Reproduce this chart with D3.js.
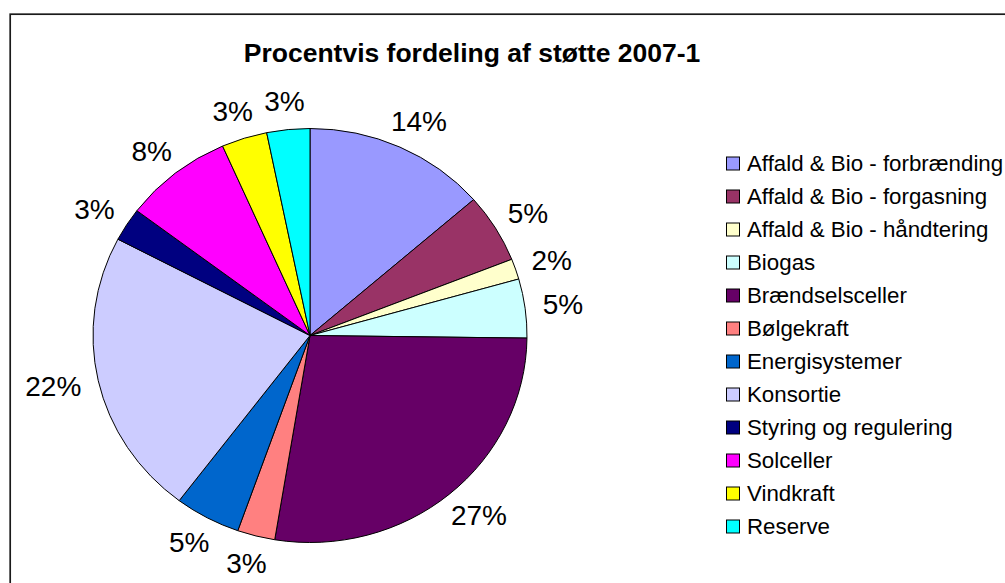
<!DOCTYPE html>
<html>
<head>
<meta charset="utf-8">
<script src="https://cdn.jsdelivr.net/npm/d3@7"></script>
<style>
    body { margin: 0; background: #fff; }
    svg text { font-family: "Liberation Sans", Arial, sans-serif; fill: #000; }
</style>
</head>
<body>
<div id="chart"></div>
<script>
// data (percent of support)
const chartTitle = "Procentvis fordeling af støtte 2007-1";
const categories = [
    "Affald & Bio - forbrænding", "Affald & Bio - forgasning", "Affald & Bio - håndtering",
    "Biogas", "Brændselsceller", "Bølgekraft", "Energisystemer", "Konsortie",
    "Styring og regulering", "Solceller", "Vindkraft", "Reserve"
];
const shares = [13.6, 5.4, 1.6, 4.6, 27.4, 2.8, 4.9, 22.4, 2.6, 8.1, 3.4, 3.2];
const sliceColors = [
    "#9999ff", "#993366", "#ffffcc", "#ccffff", "#660066", "#ff8080",
    "#0066cc", "#ccccff", "#000080", "#ff00ff", "#ffff00", "#00ffff"
];

class PieVis {
    constructor(_parentElement, _data) {
        this.parentElement = _parentElement;
        this.data = _data;
        this.initVis();
    }

    initVis() {
        let vis = this;

        vis.width = 1005;
        vis.height = 583;

        vis.svg = d3.select(`#${vis.parentElement}`)
            .append("svg")
            .attr("width", vis.width)
            .attr("height", vis.height);

        // chart frame (right and bottom run off the picture)
        vis.svg.append("rect")
            .attr("x", 10.2)
            .attr("y", 14.2)
            .attr("width", 1200)
            .attr("height", 800)
            .attr("fill", "none")
            .attr("stroke", "#1a1a1a")
            .attr("stroke-width", 1.7);

        // title
        vis.svg.append("text")
            .attr("x", 472)
            .attr("y", 62)
            .attr("text-anchor", "middle")
            .attr("font-weight", "bold")
            .attr("font-size", "26.5px")
            .text(chartTitle);

        vis.cx = 310;
        vis.cy = 335.5;
        vis.rx = 217;
        vis.ry = 207;

        vis.color = d3.scaleOrdinal()
            .domain(categories)
            .range(sliceColors);

        vis.pie = d3.pie()
            .sort(null)
            .value(d => d.value);

        vis.arc = d3.arc()
            .innerRadius(0)
            .outerRadius(vis.rx);

        vis.pieGroup = vis.svg.append("g")
            .attr("transform", `translate(${vis.cx},${vis.cy})`);

        // legend
        const legend = vis.svg.append("g")
            .attr("class", "legend")
            .attr("transform", "translate(726, 163.5)");

        categories.forEach((cat, i) => {
            const row = legend.append("g")
                .attr("transform", `translate(0, ${i * 33})`);

            row.append("rect")
                .attr("x", 0.5)
                .attr("y", -6.5)
                .attr("width", 13)
                .attr("height", 13)
                .attr("fill", vis.color(cat))
                .attr("stroke", "#000")
                .attr("stroke-width", 1);

            row.append("text")
                .attr("x", 21)
                .attr("y", 0)
                .attr("dominant-baseline", "central")
                .style("font-size", "22.3px")
                .text(cat);
        });

        vis.updateVis();
    }

    updateVis() {
        let vis = this;
        let arcs = vis.pie(vis.data);

        // slices, squeezed a little vertically like the original
        vis.pieGroup.append("g")
            .attr("transform", `scale(1, ${vis.ry / vis.rx})`)
            .selectAll("path")
            .data(arcs)
            .enter()
            .append("path")
            .attr("d", vis.arc)
            .attr("fill", d => vis.color(d.data.name))
            .attr("stroke", "#000")
            .attr("stroke-width", 1)
            .attr("vector-effect", "non-scaling-stroke");

        // percent labels outside each slice
        let gap = 18;
        arcs.forEach(d => {
            let mid = (d.startAngle + d.endAngle) / 2;
            let s = Math.sin(mid), c = Math.cos(mid);
            let label = vis.pieGroup.append("text")
                .attr("text-anchor", "middle")
                .attr("dominant-baseline", "central")
                .style("font-size", "28px")
                .text(Math.round(d.data.value) + "%");
            let w = label.node().getComputedTextLength();
            let h = 20;
            let x = s * (vis.rx + gap) + s * w / 2;
            let y = -c * (vis.ry + gap) - c * h / 2;
            label.attr("x", x).attr("y", y);
        });
    }
}

const pieData = categories.map((name, i) => ({ name: name, value: shares[i] }));
new PieVis("chart", pieData);
</script>
</body>
</html>
